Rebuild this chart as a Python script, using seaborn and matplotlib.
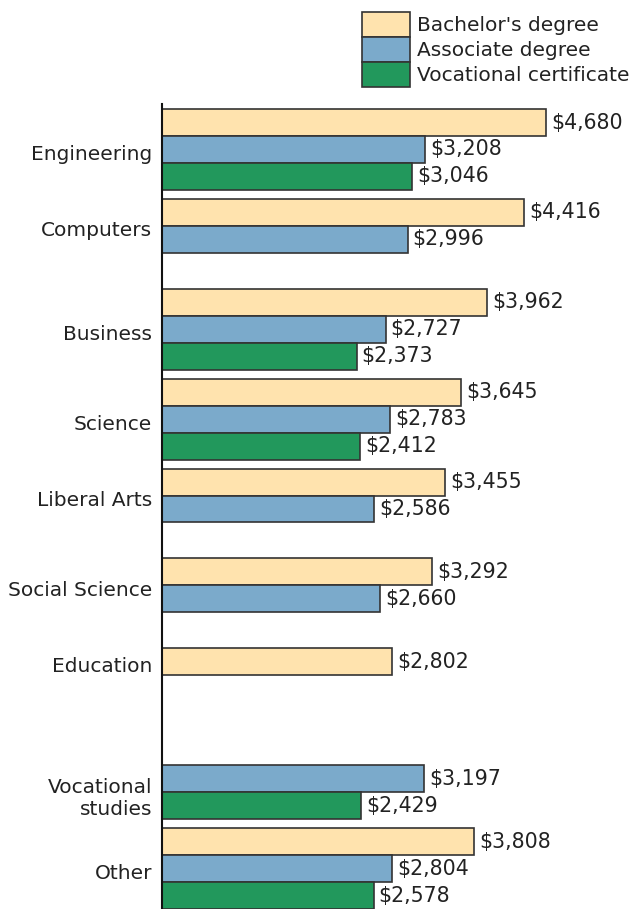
import pandas as pd
import numpy as np
import matplotlib.pyplot as plt
import matplotlib.patches as mpatches
import matplotlib.transforms as mtransforms
import seaborn as sns

fields = ["Engineering", "Computers", "Business", "Science", "Liberal Arts",
          "Social Science", "Education", "Vocational\nstudies", "Other"]
levels = ["Bachelor's degree", "Associate degree", "Vocational certificate"]

# median monthly earnings, None = no data for that credential
bachelor = [4680, 4416, 3962, 3645, 3455, 3292, 2802, None, 3808]
associate = [3208, 2996, 2727, 2783, 2586, 2660, None, 3197, 2804]
vocational = [3046, None, 2373, 2412, None, None, None, 2429, 2578]

colors = {"Bachelor's degree": "#FFE3AE",
          "Associate degree": "#7BAACB",
          "Vocational certificate": "#22985C"}

rows = []
for lvl, vals in zip(levels, [bachelor, associate, vocational]):
    for f, v in zip(fields, vals):
        if v is not None:
            rows.append({"field": f, "level": lvl, "earnings": v})
df = pd.DataFrame(rows)

sns.set_style("white")
plt.rcParams["font.family"] = ["DejaVu Sans"]
plt.rcParams["text.color"] = "#222222"

fig = plt.figure(figsize=(6.37, 9.09), dpi=100)
ax = fig.add_axes([162 / 637, 0, 1 - 162 / 637, 805 / 909])

sns.barplot(data=df, y="field", x="earnings", hue="level", order=fields,
            hue_order=levels, palette=colors, saturation=1, width=0.9, errorbar=None,
            edgecolor="#333333", linewidth=1.2, orient="h", legend=False, ax=ax)

for cont in ax.containers:
    ax.bar_label(cont, labels=[f"${v:,.0f}" for v in cont.datavalues],
                 padding=3.5, fontsize=14.8, color="#222222")

# center each category label on the bars that are present
centers = {}
for p in ax.patches:
    yc = p.get_y() + p.get_height() / 2
    if p.get_width() > 0:
        centers.setdefault(int(round(yc)), []).append(yc)
ticks = [np.mean(centers[i]) for i in range(len(fields))]
ax.set_yticks(ticks)
ax.set_yticklabels(fields, fontsize=14.5, color="#222222", multialignment="right")
ax.tick_params(axis="y", length=0, pad=7)
shift = mtransforms.ScaledTranslation(0, -3 / 100, fig.dpi_scale_trans)
for lab in ax.get_yticklabels():
    lab.set_transform(lab.get_transform() + shift)

ax.set_xlim(0, 5789)
ax.set_ylim(8.45, -0.506)
ax.set_xticks([])
ax.set_xlabel("")
ax.set_ylabel("")
for s in ["top", "right", "bottom"]:
    ax.spines[s].set_visible(False)
ax.spines["left"].set_color("#111111")
ax.spines["left"].set_linewidth(1.5)

handles = [mpatches.Patch(facecolor=colors[l], edgecolor="#333333", linewidth=1.2, label=l)
           for l in levels]
fig.legend(handles=handles, loc="upper left", bbox_to_anchor=(358 / 637, 1 - 8 / 909),
           frameon=False, fontsize=14.5, handlelength=2.36, handleheight=1.54,
           handletextpad=0.38, labelspacing=0.0, borderpad=0.2, borderaxespad=0)

fig.savefig("out.png", dpi=100)
